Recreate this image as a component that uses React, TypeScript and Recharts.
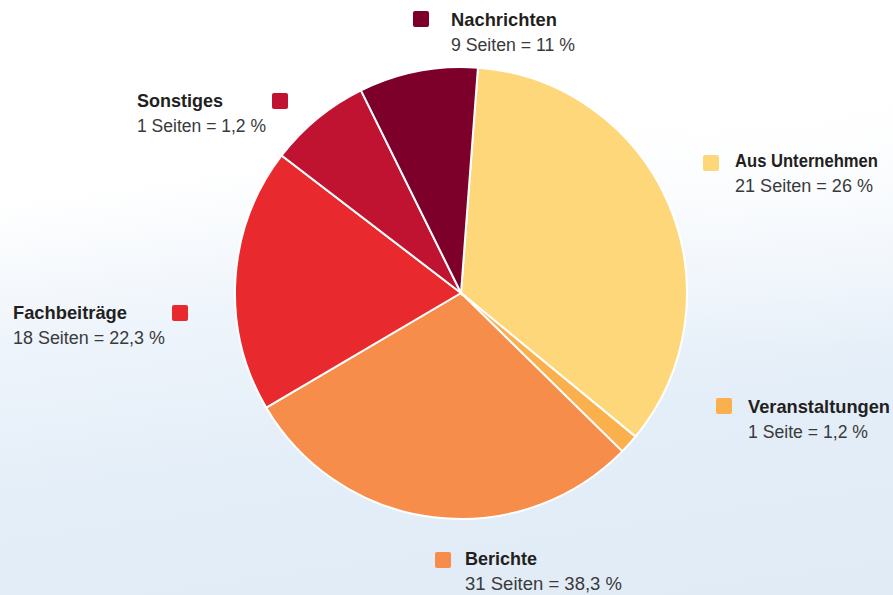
import React from 'react';
import { PieChart, Pie, Cell } from 'recharts';

// Categories in clockwise drawing order (starting just right of 12 o'clock)
const categories = ['Aus Unternehmen', 'Veranstaltungen', 'Berichte', 'Fachbeiträge', 'Sonstiges', 'Nachrichten'];
// Slice shares as drawn in the picture (percent of the circle)
const sliceShares = [34.8, 1.4, 29.2, 18.9, 7.3, 8.5];
// Label texts as printed
const pageTexts = ['21 Seiten = 26 %', '1 Seite = 1,2 %', '31 Seiten = 38,3  %', '18 Seiten = 22,3 %', '1 Seiten = 1,2 %', '9 Seiten = 11 %'];

const COLORS = ['#FED77B', '#FBB04E', '#F68D4A', '#E8292E', '#C01331', '#7C0029'];

// label layout: square (sx, sy), text x, title baseline y, title width, subline width (condensed look)
const LABEL_LAYOUT = [
  { sx: 703, sy: 155, tx: 735, ty: 167, tw: 143, sw: 138 },
  { sx: 716, sy: 398, tx: 748, ty: 413, tw: 142, sw: 120 },
  { sx: 435, sy: 552, tx: 465, ty: 565, tw: 72, sw: 157 },
  { sx: 172, sy: 305, tx: 13, ty: 319, tw: 114, sw: 152 },
  { sx: 272, sy: 93, tx: 137, ty: 107, tw: 86, sw: 129 },
  { sx: 413, sy: 11, tx: 451, ty: 26, tw: 106, sw: 124 },
];

const data = categories.map((name, i) => ({ name, value: sliceShares[i], text: pageTexts[i] }));

const FONT = '"Liberation Sans", Arial, sans-serif';

const renderLabel = (props: any) => {
  const i = props.index;
  const l = LABEL_LAYOUT[i];
  return (
    <g key={`lbl-${i}`}>
      <rect x={l.sx} y={l.sy} width={16} height={16} rx={2} fill={COLORS[i]} />
      <text
        x={l.tx}
        y={l.ty}
        fontFamily={FONT}
        fontWeight="bold"
        fontSize={19}
        fill="#231F20"
        textAnchor="start"
        textLength={l.tw}
        lengthAdjust="spacingAndGlyphs"
      >
        {categories[i]}
      </text>
      <text
        x={l.tx}
        y={l.ty + 25}
        fontFamily={FONT}
        fontSize={18}
        fill="#3A3A3A"
        textAnchor="start"
        textLength={l.sw}
        lengthAdjust="spacingAndGlyphs"
      >
        {pageTexts[i]}
      </text>
    </g>
  );
};

export default function App() {
  return (
    <div
      style={{
        position: 'absolute',
        left: 0,
        top: 0,
        width: 893,
        height: 595,
        overflow: 'hidden',
        background:
          'radial-gradient(ellipse 520px 260px at 780px 90px, rgba(255,255,255,1) 0%, rgba(255,255,255,0) 100%), linear-gradient(172deg, #ffffff 0%, #ffffff 28%, #eef4fb 48%, #e4eef8 70%, #e0ebf6 100%)',
      }}
    >
      <PieChart width={893} height={595} margin={{ top: 0, right: 0, bottom: 0, left: 0 }}>
        <Pie
          data={data}
          dataKey="value"
          nameKey="name"
          cx={461}
          cy={293}
          outerRadius={226}
          startAngle={85.7}
          endAngle={-274.3}
          stroke="#ffffff"
          strokeWidth={2}
          label={renderLabel}
          labelLine={false}
          isAnimationActive={false}
        >
          {data.map((d, i) => (
            <Cell key={d.name} fill={COLORS[i]} />
          ))}
        </Pie>
      </PieChart>
    </div>
  );
}
